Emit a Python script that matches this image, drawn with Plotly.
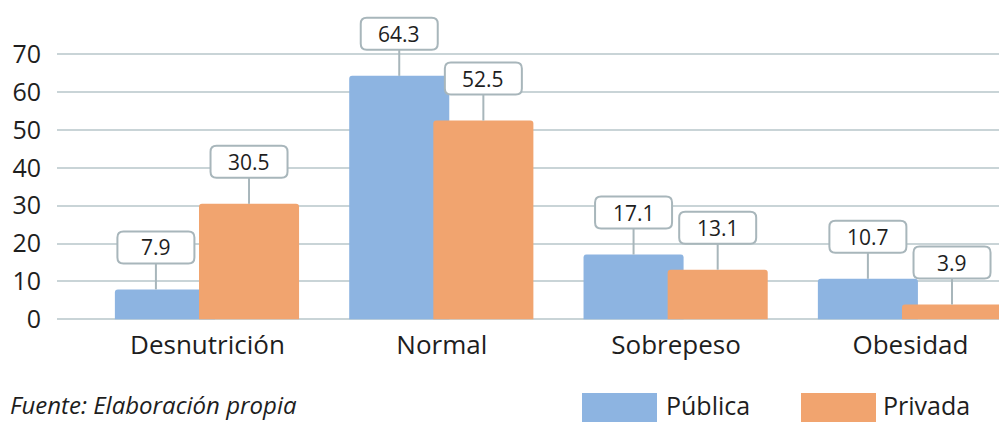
import plotly.graph_objects as go

# Nutritional status by school type (%)
categorias = ["Desnutrición", "Normal", "Sobrepeso", "Obesidad"]
publica = [7.9, 64.3, 17.1, 10.7]
privada = [30.5, 52.5, 13.1, 3.9]
series_nombres = ["Pública", "Privada"]
y_ticks = [0, 10, 20, 30, 40, 50, 60, 70]
fuente = "Fuente: Elaboración propia"

AZUL = "#8DB4E1"
NARANJA = "#F1A46F"
GRID = "#C9D4D7"
BORDE = "#A8B6BB"
TEXTO = "#1E1E1E"
FONT = "Open Sans"

BAR_W = 0.427
OFF_PUB = -0.395
OFF_PRI = -0.036

fig = go.Figure()
fig.add_trace(go.Bar(x=list(range(len(categorias))), y=publica, name=series_nombres[0],
                     marker=dict(color=AZUL, line=dict(width=0), cornerradius=3),
                     width=BAR_W, offset=OFF_PUB, showlegend=False))
fig.add_trace(go.Bar(x=list(range(len(categorias))), y=privada, name=series_nombres[1],
                     marker=dict(color=NARANJA, line=dict(width=0), cornerradius=3),
                     width=BAR_W, offset=OFF_PRI, showlegend=False))

# Callout boxes: rounded box above each bar with a leader line
BOX_W, BOX_H, GAP, R = 77, 32, 26, 6


def rounded_box(w, h, r, y0, dx=0):
    x0, x1 = dx - w / 2, dx + w / 2
    y1 = y0 + h
    return (f"M {x0 + r},{y0} L {x1 - r},{y0} Q {x1},{y0} {x1},{y0 + r} "
            f"L {x1},{y1 - r} Q {x1},{y1} {x1 - r},{y1} L {x0 + r},{y1} "
            f"Q {x0},{y1} {x0},{y1 - r} L {x0},{y0 + r} Q {x0},{y0} {x0 + r},{y0} Z")


# horizontal nudge (px) for the first Pública callout so it clears the orange bar
nudge_px = {(0, 0): -9}
shapes = []
annotations = []
for s, (vals, off) in enumerate([(publica, OFF_PUB), (privada, OFF_PRI)]):
    for k, v in enumerate(vals):
        xc = k + off + BAR_W / 2
        dx = nudge_px.get((s, k), 0)
        shapes.append(dict(type="line", xref="x", yref="y", xsizemode="pixel", ysizemode="pixel",
                           xanchor=xc, yanchor=v, x0=dx, x1=dx, y0=0, y1=GAP,
                           line=dict(color=BORDE, width=2), layer="above"))
        shapes.append(dict(type="path", xref="x", yref="y", xsizemode="pixel", ysizemode="pixel",
                           xanchor=xc, yanchor=v, path=rounded_box(BOX_W, BOX_H, R, GAP, dx),
                           fillcolor="white", line=dict(color=BORDE, width=2), layer="above"))
        annotations.append(dict(x=xc, y=v, xref="x", yref="y", text=f"{v:.1f}",
                                showarrow=False, xshift=dx, yshift=GAP + BOX_H / 2,
                                font=dict(family=FONT, size=21, color=TEXTO)))

PLOT_L, PLOT_R, PLOT_B = 57, 999, 322


def px_to_paper_x(p):
    return (p - PLOT_L) / (PLOT_R - PLOT_L)


def px_to_paper_y(q):
    return (PLOT_B - q) / PLOT_B


# Legend drawn as large swatches
for (x0, x1, txt_x), color, name in [((582, 657, 664), AZUL, series_nombres[0]),
                                     ((801, 876, 881), NARANJA, series_nombres[1])]:
    shapes.append(dict(type="path", xref="paper", yref="paper",
                       path=(f"M {px_to_paper_x(x0)},{px_to_paper_y(422)} "
                             f"L {px_to_paper_x(x1)},{px_to_paper_y(422)} "
                             f"L {px_to_paper_x(x1)},{px_to_paper_y(393)} "
                             f"L {px_to_paper_x(x0)},{px_to_paper_y(393)} Z"),
                       fillcolor=color, line=dict(width=0)))
    annotations.append(dict(x=px_to_paper_x(txt_x), y=px_to_paper_y(405), xref="paper", yref="paper",
                            text=name, showarrow=False, xanchor="left", yanchor="middle",
                            font=dict(family=FONT, size=25, color=TEXTO)))

annotations.append(dict(x=px_to_paper_x(8), y=px_to_paper_y(404), xref="paper", yref="paper",
                        text=f"<i>{fuente}</i>", showarrow=False, xanchor="left", yanchor="middle",
                        font=dict(family=FONT, size=24, color=TEXTO)))

fig.update_layout(
    width=999, height=423,
    margin=dict(l=PLOT_L, r=999 - PLOT_R, t=0, b=423 - PLOT_B),
    plot_bgcolor="white", paper_bgcolor="white",
    barmode="overlay",
    shapes=shapes, annotations=annotations,
    xaxis=dict(range=[-0.642, 3.378], tickvals=list(range(len(categorias))), ticktext=categorias,
               showgrid=False, zeroline=False, showline=False, ticks="",
               tickfont=dict(family=FONT, size=26, color=TEXTO), ticklabelstandoff=5),
    yaxis=dict(range=[-0.71, 84.34], tickvals=y_ticks, showgrid=True, gridcolor=GRID, gridwidth=2,
               zeroline=False, showline=False, ticks="",
               tickfont=dict(family=FONT, size=25, color=TEXTO), ticklabelstandoff=15),
)

fig.write_html("out.html")
